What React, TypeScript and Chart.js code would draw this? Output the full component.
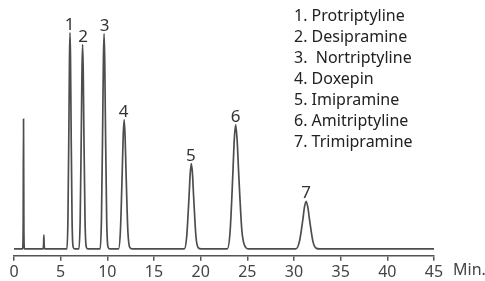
import React, { useEffect, useRef } from "react";
import { Chart, registerables } from "chart.js";

Chart.register(...registerables);

// Retention time (min) and detector signal of the trace
const times = [
  0, 0.92, 0.98, 1.02, 1.06, 1.12,
  3.1, 3.17, 3.2, 3.23, 3.3,
  5.67, 5.78, 5.89, 5.945, 6.0, 6.055, 6.11, 6.22, 6.33, 6.5,
  6.96, 7.09, 7.22, 7.285, 7.35, 7.415, 7.48, 7.61, 7.74, 7.9,
  9.23, 9.37, 9.51, 9.58, 9.65, 9.72, 9.79, 9.93, 10.07, 10.25,
  11.2, 11.4, 11.6, 11.7, 11.8, 11.9, 12.0, 12.2, 12.4, 12.65,
  18.25, 18.5, 18.75, 18.88, 19.0, 19.12, 19.25, 19.5, 19.75, 20.05,
  22.85, 23.15, 23.45, 23.6, 23.75, 23.91, 24.08, 24.42, 24.78, 25.1,
  30.2, 30.57, 30.94, 31.12, 31.3, 31.48, 31.67, 32.04, 32.4, 32.75,
  45,
];
const signal = [
  0, 0, 18, 131, 18, 0,
  0, 4, 14, 4, 0,
  0, 30, 132, 192, 218, 192, 132, 30, 2, 0,
  0, 29, 125, 181, 206, 181, 125, 29, 2, 0,
  0, 30, 132, 191, 217, 191, 132, 30, 2, 0,
  0, 18, 79, 114, 130, 114, 79, 18, 1.5, 0,
  0, 12, 52, 76, 86, 76, 52, 12, 1, 0,
  0, 17, 76, 110, 125, 109, 75, 18, 2, 0,
  0, 7, 29, 42, 48, 42, 29, 7, 0.5, 0,
  0,
];

// Peak labels
const peakNumbers = ["1", "2", "3", "4", "5", "6", "7"];
const peakTimes = [5.95, 7.4, 9.7, 11.75, 18.95, 23.75, 31.3];
const peakHeights = [218, 206, 217, 130, 86, 125, 48];

// Legend
const compounds = [
  "1. Protriptyline",
  "2. Desipramine",
  "3.  Nortriptyline",
  "4. Doxepin",
  "5. Imipramine",
  "6. Amitriptyline",
  "7. Trimipramine",
];

const xTicks = [0, 5, 10, 15, 20, 25, 30, 35, 40, 45];
const xUnit = "Min.";

const FONT = '"Noto Sans", "DejaVu Sans", sans-serif';

const annotations = {
  id: "annotations",
  afterDraw(chart: any) {
    const { ctx, scales } = chart;
    const xs = scales.x;
    const ys = scales.y;
    ctx.save();
    // peak numbers
    ctx.fillStyle = "#333";
    ctx.font = `17px ${FONT}`;
    ctx.textAlign = "center";
    ctx.textBaseline = "alphabetic";
    peakNumbers.forEach((n, i) => {
      ctx.fillText(n, xs.getPixelForValue(peakTimes[i]), ys.getPixelForValue(peakHeights[i]) - 3);
    });
    // legend
    ctx.font = `16px ${FONT}`;
    ctx.textAlign = "left";
    ctx.fillStyle = "#222";
    compounds.forEach((c, i) => {
      ctx.fillText(c, 294, 21 + i * 21);
    });
    // unit
    ctx.font = `16px ${FONT}`;
    ctx.fillStyle = "#444";
    ctx.textBaseline = "top";
    ctx.fillText(xUnit, xs.getPixelForValue(45) + 19, xs.top + 7);
    ctx.restore();
  },
};

export default function App() {
  const ref = useRef<HTMLCanvasElement>(null);
  useEffect(() => {
    const chart = new Chart(ref.current!, {
      type: "line",
      data: {
        datasets: [
          {
            data: times.map((t, i) => ({ x: t, y: signal[i] })),
            borderColor: "#4d4d4d",
            borderWidth: 1.7,
            pointRadius: 0,
            cubicInterpolationMode: "monotone",
            fill: false,
          },
        ],
      },
      options: {
        animation: false,
        responsive: true,
        maintainAspectRatio: false,
        layout: { padding: { left: 14, right: 51, top: 0, bottom: 0 } },
        plugins: { legend: { display: false }, tooltip: { enabled: false } },
        scales: {
          x: {
            type: "linear",
            min: 0,
            max: 45,
            afterBuildTicks: (axis: any) => {
              axis.ticks = xTicks.map((v) => ({ value: v }));
            },
            ticks: {
              color: "#444",
              font: { family: FONT, size: 16 },
              padding: 2,
              maxRotation: 0,
              autoSkip: false,
            },
            grid: {
              drawOnChartArea: false,
              drawTicks: true,
              tickLength: 5,
              color: "#555",
              lineWidth: 1.5,
            },
            border: { display: true, color: "#555", width: 1.5 },
          },
          y: { display: false, min: -7, max: 251 },
        },
      },
      plugins: [annotations],
    });
    return () => chart.destroy();
  }, []);
  return (
    <div style={{ position: "fixed", left: 0, top: 0, width: 485, height: 284 }}>
      <canvas ref={ref} />
    </div>
  );
}
